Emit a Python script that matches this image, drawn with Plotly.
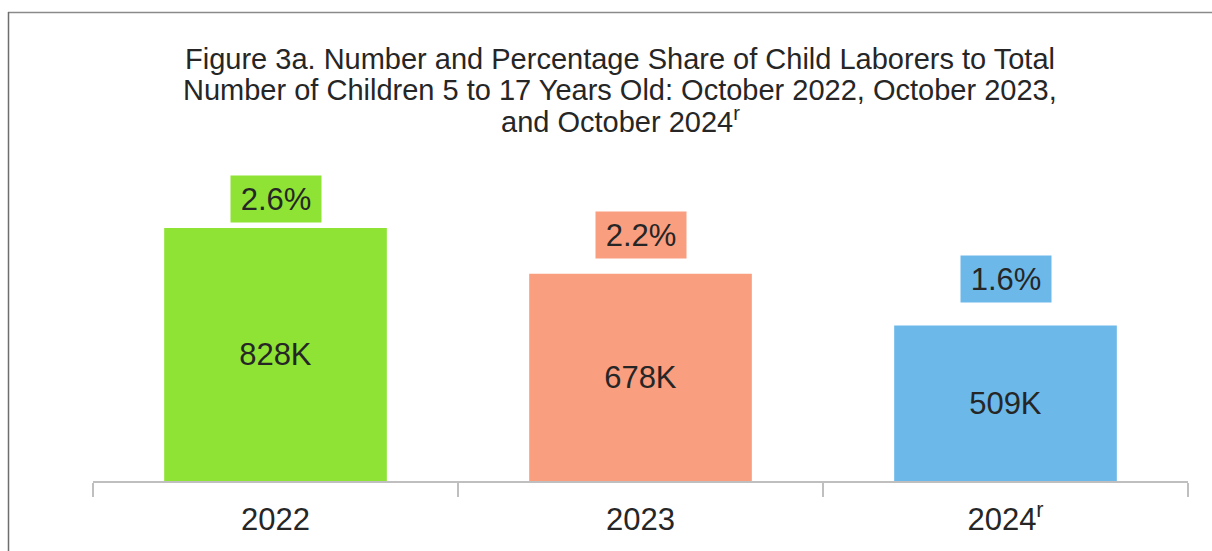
import plotly.graph_objects as go

categories = ["2022", "2023", "2024<sup>r</sup>"]
counts_k = [828, 678, 509]
count_labels = ["828K", "678K", "509K"]
pct_labels = ["2.6%", "2.2%", "1.6%"]
colors = ["#8FE334", "#FA9E80", "#6CB9E9"]
pct_shift = [29, 38.5, 46.5]

title_lines = [
    "Figure 3a. Number and Percentage Share of Child Laborers to Total",
    "Number of Children 5 to 17 Years Old: October 2022, October 2023,",
    "and October 2024<sup>r</sup>",
]
title_line_y = [59, 90, 120]

W, H = 1212, 551
L, R, T, B = 93, 24, 150, 70
ymax = 1083

pw = W - L - R
ph = H - T - B
def px(x): return (x - L) / pw
def py(y): return (H - B - y) / ph

FONT = "Liberation Sans, Arial, sans-serif"
TXT = "#262626"

xpos = list(range(len(categories)))

fig = go.Figure()
fig.add_trace(go.Bar(
    x=xpos, y=counts_k, marker=dict(color=colors, line=dict(width=0)),
    text=count_labels, textposition="inside", insidetextanchor="middle",
    textfont=dict(size=31, color=TXT, family=FONT), width=0.61, hoverinfo="skip",
    textangle=0,
))

for xi, v, lab, col, sh in zip(xpos, counts_k, pct_labels, colors, pct_shift):
    fig.add_annotation(x=xi, y=v, text=lab, showarrow=False, yshift=sh,
                       xref="x", yref="y", bgcolor=col,
                       font=dict(size=31, color=TXT, family=FONT),
                       width=84, height=40, borderpad=3)

for line, yy in zip(title_lines, title_line_y):
    fig.add_annotation(x=px(620), y=py(yy), xref="paper", yref="paper",
                       text=line, showarrow=False, xanchor="center", yanchor="middle",
                       font=dict(size=29, color=TXT, family=FONT))

fig.add_shape(type="line", xref="paper", yref="paper", x0=px(8), x1=px(1212),
              y0=py(12.5), y1=py(12.5), line=dict(color="#8A8A8A", width=1.5))
fig.add_shape(type="line", xref="paper", yref="paper", x0=px(8.5), x1=px(8.5),
              y0=py(12), y1=py(551), line=dict(color="#6E6E6E", width=1.5))

fig.update_layout(
    width=W, height=H,
    margin=dict(l=L, r=R, t=T, b=B, autoexpand=False),
    paper_bgcolor="white", plot_bgcolor="white",
    font=dict(family=FONT, color=TXT),
    showlegend=False,
)
fig.update_xaxes(type="linear", range=[-0.5, len(categories) - 0.5],
                 showline=True, linecolor="#BFBFBF", linewidth=1.5,
                 tickmode="array", tickvals=xpos, ticktext=categories,
                 ticks="", tickangle=0, automargin=False, ticklabelstandoff=10,
                 tickfont=dict(size=31, color=TXT, family=FONT),
                 minor=dict(ticks="outside", tick0=-0.5, dtick=1, ticklen=14,
                            tickcolor="#BFBFBF", tickwidth=1.5, showgrid=False),
                 showgrid=False, zeroline=False, fixedrange=True)
fig.update_yaxes(visible=False, range=[0, ymax], showgrid=False, fixedrange=True)

fig.write_html("out.html", config={"displayModeBar": False},
               post_script="document.body.style.margin='0';")
